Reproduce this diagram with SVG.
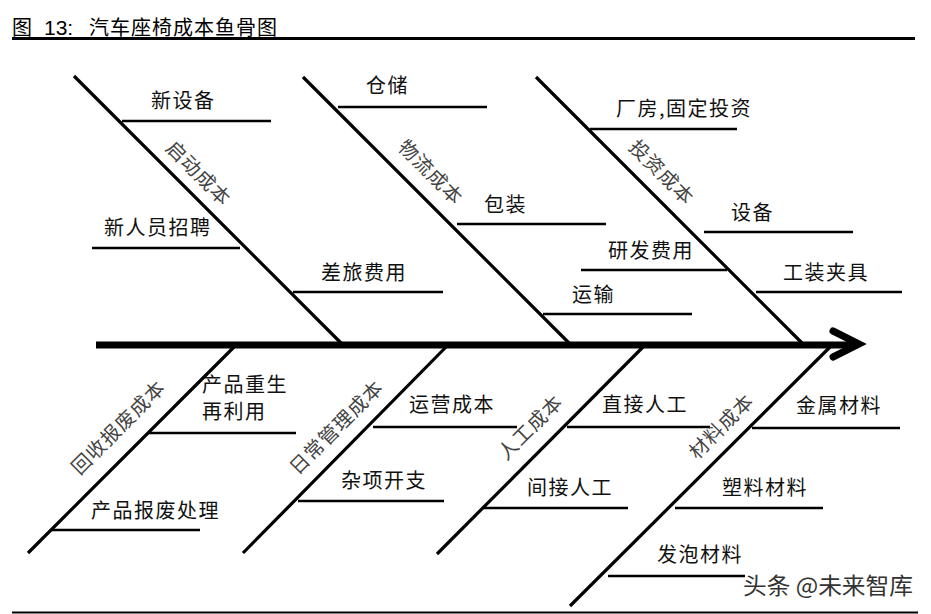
<svg xmlns="http://www.w3.org/2000/svg" width="931" height="614" viewBox="0 0 931 614">
<style>
.t{font-family:"Noto Sans CJK SC","Liberation Sans",sans-serif;font-size:20px;letter-spacing:1.5px;fill:#111}
.lb{font-family:"Noto Sans CJK SC","Liberation Sans",sans-serif;font-size:19.5px;letter-spacing:1px;fill:#444;text-anchor:middle}
.bone{stroke:#000;stroke-width:3.2;fill:none}
.sub{stroke:#000;stroke-width:2.5;fill:none}
.hd{font-family:"Noto Sans CJK SC","Liberation Sans",sans-serif;font-size:20px;fill:#000}
</style>
<rect width="931" height="614" fill="#fff"/>
<g id="header">
<text class="hd" y="35"><tspan x="12">图</tspan><tspan x="44" style="font-family:'Liberation Sans',sans-serif;font-size:21px">13:</tspan><tspan x="89" style="letter-spacing:1px">汽车座椅成本鱼骨图</tspan></text>
<line x1="12" y1="38.5" x2="915" y2="38.5" stroke="#000" stroke-width="3"/>
<line x1="12" y1="612.5" x2="918" y2="612.5" stroke="#000" stroke-width="2"/>
</g>
<g id="connectors">
<line x1="96" y1="345" x2="855" y2="345" stroke="#000" stroke-width="7"/>
<polyline points="833,331 859,344 833,357" fill="none" stroke="#000" stroke-width="7" stroke-linecap="round" stroke-linejoin="miter"/>
</g>
<g id="startup">
<line class="bone" x1="74" y1="76" x2="343" y2="345"/>
<text class="lb" transform="translate(198,174) rotate(45)" dy="6">启动成本</text>
<line class="sub" x1="122" y1="121" x2="271" y2="121"/>
<text class="t" x="151" y="108">新设备</text>
<line class="sub" x1="92" y1="248" x2="240" y2="248"/>
<text class="t" x="104" y="235">新人员招聘</text>
<line class="sub" x1="293" y1="292" x2="443" y2="292"/>
<text class="t" x="321" y="280">差旅费用</text>
</g>
<g id="logistics">
<line class="bone" x1="303" y1="77" x2="571" y2="345"/>
<text class="lb" transform="translate(430,173) rotate(45)" dy="6">物流成本</text>
<line class="sub" x1="338" y1="107" x2="487" y2="107"/>
<text class="t" x="366" y="93">仓储</text>
<line class="sub" x1="457" y1="224" x2="606" y2="224"/>
<text class="t" x="484" y="212">包装</text>
<line class="sub" x1="543" y1="314" x2="692" y2="314"/>
<text class="t" x="572" y="302">运输</text>
</g>
<g id="investment">
<line class="bone" x1="536" y1="77" x2="804" y2="345"/>
<text class="lb" transform="translate(661,173) rotate(45)" dy="6">投资成本</text>
<line class="sub" x1="590" y1="129" x2="737" y2="129"/>
<text class="t" x="616" y="116">厂房,固定投资</text>
<line class="sub" x1="704" y1="232" x2="853" y2="232"/>
<text class="t" x="731" y="220">设备</text>
<line class="sub" x1="581" y1="270" x2="727" y2="270"/>
<text class="t" x="608" y="258">研发费用</text>
<line class="sub" x1="756" y1="292" x2="902" y2="292"/>
<text class="t" x="783" y="280">工装夹具</text>
</g>
<g id="recycling">
<line class="bone" x1="235" y1="346" x2="28" y2="553"/>
<text class="lb" transform="translate(119,428) rotate(-45)" dy="6">回收报废成本</text>
<line class="sub" x1="148" y1="433" x2="296" y2="433"/>
<text class="t" x="202" y="392">产品重生</text>
<text class="t" x="202" y="419">再利用</text>
<line class="sub" x1="52" y1="530" x2="200" y2="530"/>
<text class="t" x="91" y="518">产品报废处理</text>
</g>
<g id="daily">
<line class="bone" x1="447" y1="346" x2="243" y2="553"/>
<text class="lb" transform="translate(337,428) rotate(-45)" dy="6">日常管理成本</text>
<line class="sub" x1="373" y1="427" x2="517" y2="427"/>
<text class="t" x="409" y="412">运营成本</text>
<line class="sub" x1="298" y1="501" x2="444" y2="501"/>
<text class="t" x="341" y="488">杂项开支</text>
</g>
<g id="labor">
<line class="bone" x1="644" y1="346" x2="437" y2="554"/>
<text class="lb" transform="translate(531,428) rotate(-45)" dy="6">人工成本</text>
<line class="sub" x1="567" y1="427" x2="710" y2="427"/>
<text class="t" x="602" y="412">直接人工</text>
<line class="sub" x1="483" y1="508" x2="628" y2="508"/>
<text class="t" x="527" y="495">间接人工</text>
</g>
<g id="material">
<line class="bone" x1="831" y1="346" x2="570" y2="606"/>
<text class="lb" transform="translate(722,427) rotate(-45)" dy="6">材料成本</text>
<line class="sub" x1="752" y1="428" x2="900" y2="428"/>
<text class="t" x="796" y="413">金属材料</text>
<line class="sub" x1="675" y1="508" x2="823" y2="508"/>
<text class="t" x="722" y="495">塑料材料</text>
<line class="sub" x1="608" y1="576" x2="745" y2="576"/>
<text class="t" x="657" y="562">发泡材料</text>
</g>
<g id="watermark">
<text x="743" y="594" textLength="170" lengthAdjust="spacingAndGlyphs" style="font-family:'Noto Sans CJK SC','Liberation Sans',sans-serif;font-size:23px;fill:#333">头条 @未来智库</text>
</g>
</svg>
